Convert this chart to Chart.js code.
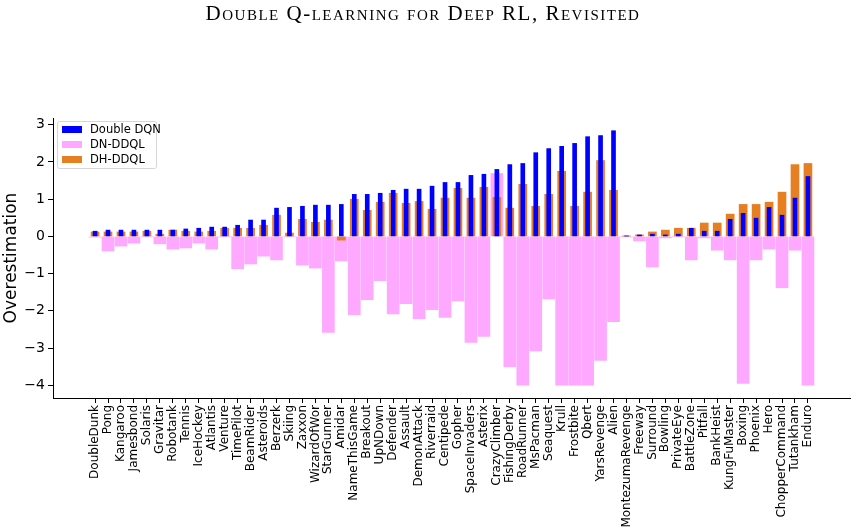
<!DOCTYPE html>
<html>
<head>
<meta charset="utf-8">
<script src="https://cdn.jsdelivr.net/npm/chart.js@4.4.0/dist/chart.umd.min.js"></script>
<style>
  html, body { margin: 0; padding: 0; background: #fff; }
  #wrap { position: relative; width: 856px; height: 532px; }
  #chart { display: block; }
  #title {
    position: absolute; top: 1px; left: 0; width: 846px; text-align: center;
    font-family: "Liberation Serif", "DejaVu Serif", serif; font-variant: small-caps;
    font-size: 21px; letter-spacing: 1.5px; color: #000;
  }
</style>
</head>
<body>
<div id="wrap">
  <canvas id="chart" width="856" height="532"></canvas>
  <div id="title">Double Q-learning for Deep RL, Revisited</div>
</div>
<script>
const games = ["DoubleDunk","Pong","Kangaroo","Jamesbond","Solaris","Gravitar","Robotank","Tennis","IceHockey","Atlantis",
  "Venture","TimePilot","BeamRider","Asteroids","Berzerk","Skiing","Zaxxon","WizardOfWor","StarGunner","Amidar",
  "NameThisGame","Breakout","UpNDown","Defender","Assault","DemonAttack","Riverraid","Centipede","Gopher","SpaceInvaders",
  "Asterix","CrazyClimber","FishingDerby","RoadRunner","MsPacman","Seaquest","Krull","Frostbite","Qbert","YarsRevenge",
  "Alien","MontezumaRevenge","Freeway","Surround","Bowling","PrivateEye","BattleZone","Pitfall","BankHeist","KungFuMaster",
  "Boxing","Phoenix","Hero","ChopperCommand","Tutankham","Enduro"];

const doubleDqn = [0.14,0.17,0.17,0.17,0.17,0.17,0.17,0.20,0.22,0.25,
  0.25,0.30,0.44,0.44,0.76,0.78,0.81,0.84,0.84,0.86,
  1.13,1.13,1.16,1.24,1.27,1.27,1.35,1.45,1.45,1.64,
  1.67,1.80,1.93,1.96,2.25,2.36,2.42,2.50,2.68,2.71,
  2.84,0.01,0.04,0.06,0.04,0.06,0.22,0.14,0.14,0.46,
  0.62,0.49,0.78,0.57,1.03,1.61];

const dnDdql = [-0.02,-0.39,-0.26,-0.18,-0.01,-0.20,-0.34,-0.31,-0.18,-0.34,
  -0.01,-0.87,-0.74,-0.53,-0.63,-0.01,-0.77,-0.85,-2.58,-0.66,
  -2.10,-1.70,-1.19,-2.08,-1.81,-2.21,-1.97,-2.18,-1.73,-2.85,
  -2.69,1.69,-3.50,-4.00,-3.08,-1.68,-4.00,-4.00,-4.00,-3.33,
  -2.29,-0.01,-0.12,-0.82,-0.04,-0.01,-0.63,-0.04,-0.37,-0.63,
  -3.95,-0.63,-0.34,-1.38,-0.37,-4.00];

const dhDdql = [0.12,0.12,0.12,0.12,0.14,0.06,0.17,0.14,0.12,0.14,
  0.22,0.22,0.22,0.30,0.57,0.09,0.46,0.38,0.44,-0.10,
  1.00,0.70,0.92,1.16,0.89,0.94,0.73,1.03,1.29,1.03,
  1.32,1.05,0.76,1.40,0.81,1.13,1.75,0.81,1.19,2.04,
  1.24,0.01,0.04,0.12,0.17,0.22,0.22,0.36,0.36,0.60,
  0.86,0.86,0.92,1.19,1.93,1.96];

const yTicks = [-4, -3, -2, -1, 0, 1, 2, 3];

const toPoints = arr => arr.map((v, i) => ({ x: i, y: v }));

// legend drawn as a boxed list inside the plot, like matplotlib
const boxLegend = {
  id: 'boxLegend',
  afterDraw(chart) {
    const ctx = chart.ctx;
    const x0 = 57, y0 = 121, w = 99, h = 47;
    ctx.save();
    ctx.fillStyle = 'rgba(255,255,255,0.8)';
    ctx.strokeStyle = '#d6d6d6';
    ctx.lineWidth = 1;
    ctx.beginPath();
    ctx.roundRect(x0 + 0.5, y0 + 0.5, w, h, 2);
    ctx.fill();
    ctx.stroke();
    ctx.font = '11.5px "DejaVu Sans"';
    ctx.textBaseline = 'middle';
    chart.data.datasets.forEach((ds, i) => {
      const cy = y0 + 8.5 + i * 15;
      ctx.fillStyle = ds.backgroundColor;
      ctx.fillRect(x0 + 5, cy - 3.5, 20, 7);
      ctx.fillStyle = '#000';
      ctx.fillText(ds.label, x0 + 33, cy + 0.5);
    });
    ctx.restore();
  }
};

new Chart(document.getElementById('chart'), {
  type: 'bar',
  data: {
    datasets: [
      { label: 'Double DQN', data: toPoints(doubleDqn), backgroundColor: '#0000ff', barThickness: 4, order: 0 },
      { label: 'DN-DDQL', data: toPoints(dnDdql), backgroundColor: '#ffa8ff', barThickness: 12, order: 2 },
      { label: 'DH-DDQL', data: toPoints(dhDdql), backgroundColor: '#e67e22', barThickness: 8, order: 1 }
    ]
  },
  options: {
    responsive: false,
    animation: false,
    layout: { padding: { top: 118, right: 6, left: 0, bottom: 0 } },
    datasets: { bar: { grouped: false } },
    plugins: {
      legend: { display: false },
      tooltip: { enabled: false }
    },
    scales: {
      x: {
        type: 'linear',
        min: -3.245,
        max: 58.245,
        offset: false,
        afterBuildTicks: scale => { scale.ticks = games.map((g, i) => ({ value: i })); },
        afterFit: scale => { scale.height = 134; },
        ticks: {
          autoSkip: false,
          minRotation: 90,
          maxRotation: 90,
          padding: 2,
          color: '#000',
          font: { family: 'DejaVu Sans', size: 12 },
          callback: v => games[v]
        },
        grid: { display: true, drawOnChartArea: false, drawTicks: true, tickLength: 5, color: '#000', offset: false },
        border: { display: true, color: '#000', width: 1 }
      },
      y: {
        min: -4.342,
        max: 3.182,
        afterBuildTicks: scale => { scale.ticks = yTicks.map(v => ({ value: v })); },
        afterFit: scale => { scale.width = 53; },
        ticks: {
          padding: 3,
          color: '#000',
          font: { family: 'DejaVu Sans', size: 14 },
          callback: v => (v < 0 ? '\u2212' + Math.abs(v) : String(v))
        },
        title: {
          display: true,
          text: 'Overestimation',
          color: '#000',
          font: { family: 'DejaVu Sans', size: 17 },
          padding: { top: 1, bottom: 4 }
        },
        grid: { display: true, drawOnChartArea: false, drawTicks: true, tickLength: 5, color: '#000' },
        border: { display: true, color: '#000', width: 1 }
      }
    }
  },
  plugins: [boxLegend]
});
</script>
</body>
</html>
